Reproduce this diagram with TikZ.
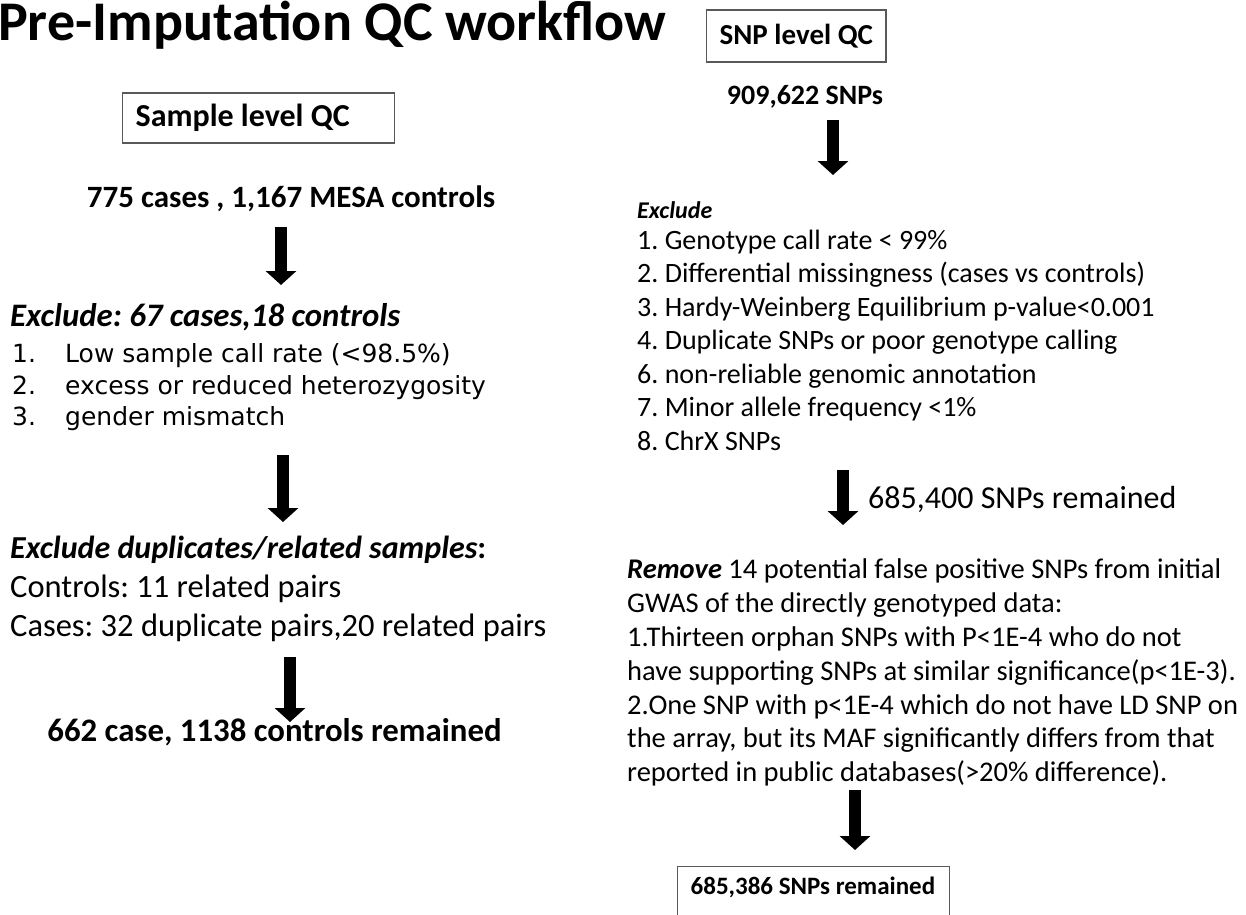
\documentclass[tikz,border=0pt]{standalone}
\usepackage{fontspec}
\setmainfont{Carlito}
\newfontfamily\listfamily{DejaVu Sans}
\usetikzlibrary{arrows.meta, positioning}
\frenchspacing

\begin{document}
\begin{tikzpicture}[x=1pt, y=-1pt,
        qcbox/.style={draw=black!65, line width=1.3pt, inner xsep=13pt, minimum height=50pt, font=\fontsize{32}{36}\selectfont\bfseries},
        headline/.style={anchor=base, inner sep=0pt, font=\fontsize{32}{36}\selectfont\bfseries},
        stepline/.style={anchor=base west, inner sep=0pt, font=\fontsize{28}{32}\selectfont},
        steplead/.style={anchor=base west, inner sep=0pt, font=\fontsize{32}{36}\selectfont\bfseries\itshape},
        listline/.style={anchor=base west, inner sep=0pt, font=\fontsize{25}{28}\listfamily},
        bigarrow/.style={line width=12pt, -{Triangle[width=30pt, length=14pt]}}
    ]
        \useasboundingbox (0,0) rectangle (1246,914);
        \fill[white] (0,0) rectangle (1246,914);
        \clip (0,0) rectangle (1246,914);

        % title
        \node[anchor=base west, inner sep=0pt, font=\fontsize{56}{64}\selectfont\bfseries] (title) at (-2,40) {Pre-Imputation QC workflow};

        % sample level branch
        \node[qcbox, anchor=west, minimum width=272pt] (sampbox) at (122,118) {\makebox[246pt][l]{Sample level QC}};
        \node[headline, font=\fontsize{31}{36}\selectfont\bfseries] (samp0) at (291,207) {775 cases , 1,167 MESA controls};
        \node[steplead, font=\fontsize{32.8}{36}\selectfont\bfseries\itshape] (sampexcl) at (10,326) {Exclude: 67 cases,18 controls};
        \node[listline] (samp1) at (12,362) {\makebox[53pt][l]{1.}Low sample call rate (<98.5\%)};
        \node[listline] (samp2) at (12,394) {\makebox[53pt][l]{2.}excess or reduced heterozygosity};
        \node[listline] (samp3) at (12,425) {\makebox[53pt][l]{3.}gender mismatch};
        \node[steplead] (sampdup) at (10,558) {Exclude duplicates/related samples\upshape:};
        \node[stepline, font=\fontsize{32.5}{36}\selectfont] (sampctl) at (10,597) {Controls: 11 related pairs};
        \node[stepline, font=\fontsize{32.5}{36}\selectfont] (sampcas) at (10,636) {Cases: 32 duplicate pairs,20 related pairs};
        \node[headline, font=\fontsize{32.8}{36}\selectfont\bfseries] (sampend) at (274.5,741) {662 case, 1138 controls remained};

        \coordinate (a1s) at (281,227);  \coordinate (a1e) at (281,285);
        \coordinate (a2s) at (283,455);  \coordinate (a2e) at (283,522);
        \coordinate (a3s) at (290,657);  \coordinate (a3e) at (290,722);
        \draw[bigarrow] (a1s) -- (a1e);
        \draw[bigarrow] (a2s) -- (a2e);
        \draw[bigarrow] (a3s) -- (a3e);

        % snp level branch
        \node[qcbox, anchor=west, minimum height=52pt, font=\fontsize{29}{32}\selectfont\bfseries] (snpbox) at (706,36) {SNP level QC};
        \node[headline, font=\fontsize{28}{30}\selectfont\bfseries] (snp0) at (805,104) {909,622 SNPs};
        \node[steplead, font=\fontsize{24}{28}\selectfont\bfseries\itshape] (snpexcl) at (637,218) {Exclude};
        \foreach \txt [count=\i] in {1. Genotype call rate < 99\%,
                2. Differential missingness (cases vs controls),
                3. Hardy-Weinberg Equilibrium p-value<0.001,
                4. Duplicate SNPs or poor genotype calling,
                6. non-reliable genomic annotation,
                7. Minor allele frequency <1\%,
                8. ChrX SNPs}
            \node[stepline] (snp\i) at (637,{215.5+33.5*\i}) {\txt};
        \node[stepline, font=\fontsize{32}{36}\selectfont] (snpmid) at (868,508) {685,400 SNPs remained};
        \foreach \txt [count=\i] in {{\textbf{\textit{Remove}} 14 potential false positive SNPs from initial},
                {GWAS of the directly genotyped data:},
                {1.Thirteen orphan SNPs with P<1E-4 who do not},
                {have supporting SNPs at similar significance(p<1E-3).},
                {2.One SNP with p<1E-4 which do not have LD SNP on},
                {the array, but its MAF significantly differs from that},
                {reported in public databases(>20\% difference).}}
            \node[stepline, font=\fontsize{28.5}{32}\selectfont] (rm\i) at (627,{545+33.8*\i}) {\txt};
        \node[qcbox, anchor=north west, font=\fontsize{25}{30}\selectfont\bfseries, minimum width=272pt, inner ysep=6pt, text height=22pt, text depth=30pt] (snpend) at (677,866) {\makebox[246pt][l]{685,386 SNPs remained}};

        \coordinate (a4s) at (833,120);  \coordinate (a4e) at (833,175);
        \coordinate (a5s) at (843,470);  \coordinate (a5e) at (843,525);
        \coordinate (a6s) at (855,790);  \coordinate (a6e) at (855,850);
        \draw[bigarrow] (a4s) -- (a4e);
        \draw[bigarrow] (a5s) -- (a5e);
        \draw[bigarrow] (a6s) -- (a6e);
    \end{tikzpicture}
\end{document}
